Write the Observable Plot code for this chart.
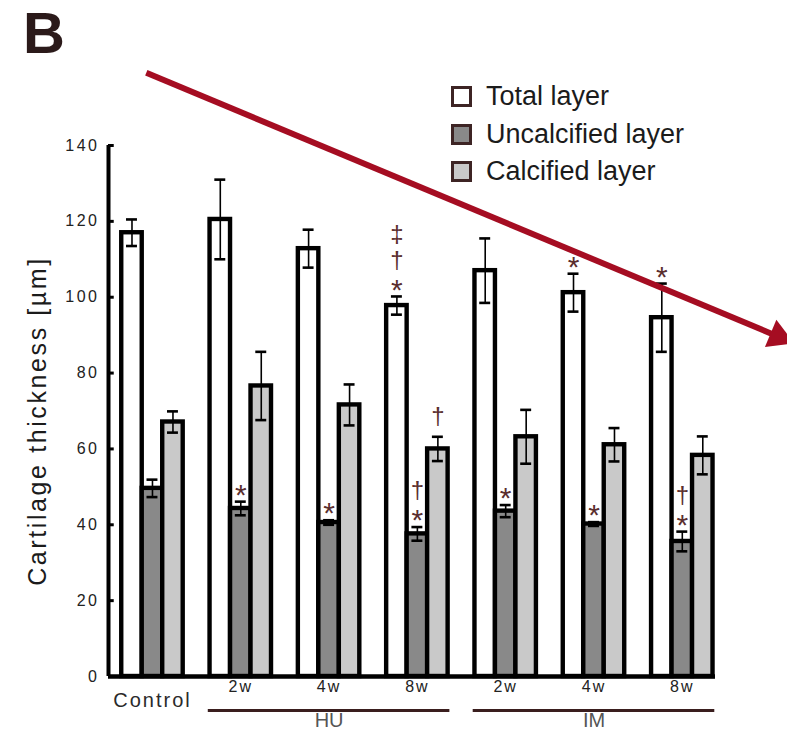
<!DOCTYPE html>
<html>
<head>
<meta charset="utf-8">
<script src="https://cdn.jsdelivr.net/npm/d3@7"></script>
<script src="https://cdn.jsdelivr.net/npm/@observablehq/plot@0.6"></script>
<style>
  body { margin: 0; background: #fff; }
  #fig { position: relative; width: 787px; height: 731px; overflow: hidden;
         font-family: "Liberation Sans", Arial, Helvetica, sans-serif; }
  #panel { position: absolute; left: 23px; top: -6px; font-size: 58px; font-weight: bold;
           color: #2b1a1a; line-height: 1; padding-top: 10px; }
  #legend { position: absolute; left: 451px; top: 78px; }
  #legend .row { display: flex; align-items: center; height: 37.5px; font-size: 27px; color: #1b1b1b; }
  #legend .sw { width: 15px; height: 15px; border: 3px solid #3d2424; margin-right: 14px; }
</style>
</head>
<body>
<div id="fig">
  <div id="panel">B</div>
  <div id="legend"></div>
</div>
<script>
// Groups along the x axis (Control, then hindlimb unloading and immobilization time points)
const groups = ["Control", "2w", "4w", "8w", "2w", "4w", "8w"];
const treatments = ["HU", "IM"];
const treatmentOf = [null, "HU", "HU", "HU", "IM", "IM", "IM"];

// Layers and their fills
const series = ["Total layer", "Uncalcified layer", "Calcified layer"];
const seriesFill = ["#ffffff", "#898989", "#c9c9c9"];

// Mean thickness (µm) and error per group
const totalMean = [117, 120.5, 112.8, 97.8, 107, 101.2, 94.6];
const totalErr  = [3.5, 10.5, 5, 2.4, 8.5, 5, 9];
const uncalMean = [49.6, 44.3, 40.6, 37.6, 43.6, 40.2, 35.6];
const uncalErr  = [2.3, 1.8, 0.6, 1.8, 1.6, 0.5, 2.6];
const calcMean  = [67.1, 76.6, 71.6, 60, 63.2, 61.1, 58.3];
const calcErr   = [2.8, 9, 5.4, 3.2, 7.1, 4.4, 5];

const yTicks = [0, 20, 40, 60, 80, 100, 120, 140];
const yTitle = "Cartilage thickness [µm]";

// Significance symbols: group, layer, symbols listed from the error bar upward
const sigGroup   = [1, 2, 3, 3, 3, 4, 5, 5, 6, 6];
const sigSeries  = [1, 1, 0, 1, 2, 1, 0, 1, 0, 1];
const sigSymbols = ["*", "*", "*†‡", "*†", "†", "*", "*", "*", "*", "*†"];

// Trend arrow drawn across the chart (data units: group index, µm)
const arrowFrom = {x: -0.07, y: 159.2};
const arrowTo   = {x: 7.09,  y: 89.6};

// ---- derived tables ----
const means = [totalMean, uncalMean, calcMean];
const errs = [totalErr, uncalErr, calcErr];
const bars = groups.flatMap((g, i) => series.map((s, k) => ({
  i, k, group: g, series: s, mean: means[k][i], err: errs[k][i]
})));

// stack symbols above the error bar: stars are short, daggers tall
const starSize = 30, daggerSize = 24;
const glyphHeight = c => c === "*" ? 12 : 22;
const sigs = sigGroup.flatMap((g, j) => {
  const k = sigSeries[j];
  const top = means[k][g] + errs[k][g];
  let offset = 8;
  return [...sigSymbols[j]].map((c, level) => {
    if (level > 0) offset += 4;
    const center = offset + glyphHeight(c) / 2;
    offset += glyphHeight(c);
    return {i: g, k, top, symbol: c, center};
  });
});

const tGroups = treatments.map(t => {
  const idx = treatmentOf.map((d, i) => d === t ? i : -1).filter(i => i >= 0);
  return {t, first: d3.min(idx), last: d3.max(idx)};
});

const bw = 0.232;          // bar width in group units
const cap = 0.062;         // half-width of error bar caps
const cx = d => d.i + (d.k - 1) * bw;
const xDomain = [-0.498, 6.376];
const ink = "#000";
const sigColor = "#5a2e2e";
const arrowColor = "#a50d22";
const arrowAngle = Math.atan2(arrowFrom.y - arrowTo.y, (arrowTo.x - arrowFrom.x) * 88.3 / 3.793) * 180 / Math.PI;

const font = "'Liberation Sans', Arial, Helvetica, sans-serif";
const chart = Plot.plot({
  width: 787,
  height: 731,
  marginTop: 145,
  marginBottom: 55,
  marginLeft: 108,
  marginRight: 72,
  x: {type: "linear", domain: xDomain, axis: null},
  y: {domain: [0, 140], axis: null},
  color: {type: "identity"},
  style: {fontFamily: font, background: "transparent", overflow: "visible"},
  marks: [
    // bars
    Plot.rectY(bars, {
      x1: d => cx(d) - bw / 2, x2: d => cx(d) + bw / 2, y1: 0, y2: "mean",
      fill: d => seriesFill[d.k], stroke: ink, strokeWidth: 4.4
    }),
    // error bars
    Plot.ruleX(bars, {x: cx, y1: d => d.mean - d.err, y2: d => d.mean + d.err, stroke: ink, strokeWidth: 1.6}),
    Plot.ruleY(bars, {y: d => d.mean + d.err, x1: d => cx(d) - cap, x2: d => cx(d) + cap, stroke: ink, strokeWidth: 2.6}),
    Plot.ruleY(bars, {y: d => d.mean - d.err, x1: d => cx(d) - cap, x2: d => cx(d) + cap, stroke: ink, strokeWidth: 2.6}),
    // axes
    Plot.ruleY([0], {x1: xDomain[0], x2: xDomain[1], stroke: ink, strokeWidth: 4.4}),
    Plot.ruleX([xDomain[0]], {y1: 0, y2: 140, stroke: ink, strokeWidth: 4}),
    Plot.ruleY(yTicks, {x1: xDomain[0], x2: xDomain[0] + 0.065, stroke: ink, strokeWidth: 3}),
    Plot.text(yTicks, {x: xDomain[0], y: d => d, text: d => String(d), textAnchor: "end", dx: -9,
      fontSize: 16, fill: "#222"}),
    Plot.text([yTitle], {frameAnchor: "left", text: d => d, rotate: -90, textAnchor: "middle",
      dx: -71, dy: 10, fontSize: 25, fill: "#1b1b1b"}),
    // group labels
    Plot.text(groups, {x: (d, i) => i, filter: (d, i) => i > 0, text: d => d, frameAnchor: "bottom",
      dy: 15, fontSize: 16, fill: "#222"}),
    Plot.text(groups, {x: (d, i) => i, filter: (d, i) => i === 0, text: d => d, frameAnchor: "bottom",
      dy: 30, fontSize: 20, fill: "#2a2a2a"}),
    Plot.ruleY(tGroups, {x1: d => d.first - 1.5 * bw - 0.02, x2: d => d.last + 1.5 * bw + 0.02, y: 0, dy: 34,
      stroke: "#3a1e1e", strokeWidth: 3}),
    Plot.text(tGroups, {x: d => (d.first + d.last) / 2, y: 0, text: d => d.t, dy: 44,
      fontSize: 20, fill: "#555"}),
    // significance markers
    Plot.text(sigs.filter(d => d.symbol === "*"), {x: cx, y: "top", text: "symbol",
      fontSize: starSize, fill: sigColor, lineAnchor: "middle"}),
    Plot.text(sigs.filter(d => d.symbol !== "*"), {x: cx, y: "top", text: "symbol",
      fontSize: daggerSize, fill: sigColor, lineAnchor: "middle"}),
    // trend arrow
    Plot.link([arrowFrom], {x1: "x", y1: "y", x2: () => arrowTo.x, y2: () => arrowTo.y,
      stroke: arrowColor, strokeWidth: 6}),
    Plot.dot([arrowTo], {x: "x", y: "y", symbol: "triangle", r: 11, fill: arrowColor, stroke: null,
      rotate: 90 + arrowAngle})
  ]
});

// text tracking and vertical offsets for the stacked symbols
const svg = d3.select(chart);
const tickStrings = yTicks.map(String);
svg.selectAll("text").each(function() {
  const t = this.textContent;
  const sel = d3.select(this);
  if (tickStrings.includes(t)) sel.style("letter-spacing", "2.5px");
  else if (t === yTitle) sel.style("letter-spacing", "2.6px");
  else if (t === "Control") sel.style("letter-spacing", "2px");
  else if (["2w", "4w", "8w"].includes(t)) sel.style("letter-spacing", "2px");
});
// shift each significance glyph so its visual centre sits at its stacked offset
const glyphs = svg.selectAll("text").filter(function() { return ["*", "†", "‡"].includes(this.textContent); });
const starRows = sigs.filter(d => d.symbol === "*");
const dagRows = sigs.filter(d => d.symbol !== "*");
let si = 0, di = 0;
glyphs.each(function() {
  const isStar = this.textContent === "*";
  const row = isStar ? starRows[si++] : dagRows[di++];
  const corr = isStar ? 0.25 * starSize : -0.06 * daggerSize;
  const cur = this.getAttribute("transform") || "";
  d3.select(this).attr("transform", cur + ` translate(0,${-row.center + corr})`);
});

document.getElementById("fig").prepend(chart);
chart.style.position = "absolute";
chart.style.left = "0";
chart.style.top = "0";

// legend
const legend = d3.select("#legend");
const rows = legend.selectAll(".row").data(series).join("div").attr("class", "row");
rows.append("div").attr("class", "sw").style("background", (d, k) => seriesFill[k]);
rows.append("span").text(d => d);
</script>
</body>
</html>
